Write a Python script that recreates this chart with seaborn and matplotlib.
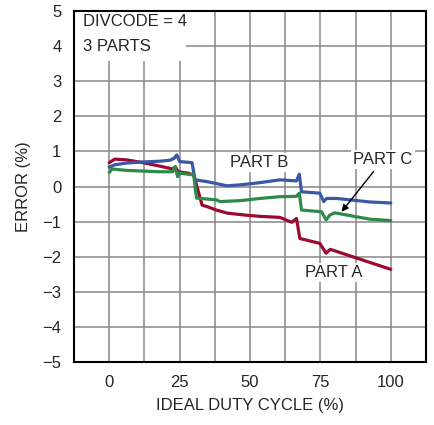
import seaborn as sns
import matplotlib.pyplot as plt
import matplotlib.patches as mpatches
import pandas as pd
import numpy as np

# 读图估计的数据
red_x = [0, 2, 6, 12, 18, 22.5, 23.5, 24.5, 28, 30, 31.5, 33, 35, 38, 42, 49, 53.5, 60.6, 64.8, 66.5, 67.7, 74.8, 77, 78.5, 100]
red_y = [0.68, 0.78, 0.76, 0.68, 0.58, 0.50, 0.56, 0.42, 0.38, 0.33, -0.10, -0.53, -0.58, -0.67, -0.76, -0.82, -0.85, -0.88, -1.02, -0.91, -1.48, -1.62, -1.90, -1.79, -2.36]

blue_x = [0, 2, 6.4, 12, 18, 21.6, 23, 24, 25, 29.4, 30.5, 34.7, 41.8, 47, 53.5, 60.6, 66.5, 67.5, 68.3, 74.8, 76.2, 77.2, 80.7, 92.5, 100]
blue_y = [0.55, 0.62, 0.67, 0.70, 0.72, 0.75, 0.80, 0.90, 0.71, 0.68, 0.19, 0.14, 0.02, 0.05, 0.11, 0.19, 0.16, 0.35, -0.15, -0.19, -0.43, -0.34, -0.34, -0.44, -0.47]

green_x = [0, 1, 6, 12, 18, 22.5, 23.4, 24.3, 25, 30, 31, 38, 39.4, 47, 53.5, 60.6, 66.5, 67.5, 68.3, 75.4, 77, 78.4, 80.1, 92.5, 100]
green_y = [0.40, 0.50, 0.46, 0.44, 0.42, 0.42, 0.56, 0.28, 0.38, 0.33, -0.33, -0.38, -0.43, -0.40, -0.34, -0.29, -0.28, -0.19, -0.67, -0.72, -0.95, -0.81, -0.75, -0.93, -0.97]

parts = ["PART A", "PART B", "PART C"]
colors = {"PART A": "#9b0a30", "PART B": "#3a58a8", "PART C": "#2e8a48"}

df = pd.concat([
    pd.DataFrame({"duty": red_x, "error": red_y, "part": "PART A"}),
    pd.DataFrame({"duty": blue_x, "error": blue_y, "part": "PART B"}),
    pd.DataFrame({"duty": green_x, "error": green_y, "part": "PART C"}),
])

sns.set_style("white")
plt.rcParams['font.family'] = ['Liberation Sans', 'DejaVu Sans']
fs = 12

fig = plt.figure(figsize=(4.34, 4.25), dpi=100)
ax = fig.add_axes([0.1705, 0.1482, 0.8111, 0.8259])

sns.lineplot(data=df, x="duty", y="error", hue="part", palette=colors,
             linewidth=2.3, sort=False, legend=False, ax=ax, zorder=3)

ax.set_xlim(-12.5, 112.5)
ax.set_ylim(-5, 5)
ax.set_xticks([0, 25, 50, 75, 100])
ax.set_xticks(np.arange(-12.5, 112.5, 12.5), minor=True)
ax.set_yticks(np.arange(-5, 6, 1))
ax.grid(True, which="both", color="#888888", linewidth=1.1, zorder=0)
ax.tick_params(which="both", length=0, labelsize=fs, pad=9)
for s in ax.spines.values():
    s.set_color("black")
    s.set_linewidth(1.5)

ax.set_xlabel("IDEAL DUTY CYCLE (%)", fontsize=fs, labelpad=6)
ax.set_ylabel("ERROR (%)", fontsize=fs, labelpad=8)

# 左上角白色说明框
ax.add_patch(mpatches.Rectangle((0, 0.858), 0.318, 0.142, transform=ax.transAxes,
                                facecolor="white", edgecolor="none", zorder=1.5))
ax.text(0.026, 0.969, "DIVCODE = 4", transform=ax.transAxes, fontsize=fs,
        va="center", ha="left", zorder=4)
ax.text(0.026, 0.900, "3 PARTS", transform=ax.transAxes, fontsize=fs,
        va="center", ha="left", zorder=4)

box = dict(facecolor="white", edgecolor="none", pad=1.5)
ax.text(53.2, 0.67, "PART B", fontsize=fs, ha="center", va="center", bbox=box, zorder=4)
ax.text(79.8, -2.44, "PART A", fontsize=fs, ha="center", va="center", bbox=box, zorder=4)
ax.annotate("PART C", xy=(82.5, -0.72), xytext=(97.2, 0.76), fontsize=fs,
            ha="center", va="center", bbox=box, zorder=4,
            arrowprops=dict(arrowstyle="-|>", color="black", lw=1, mutation_scale=10,
                            shrinkA=2, shrinkB=0))

fig.savefig("out.png", dpi=100)
